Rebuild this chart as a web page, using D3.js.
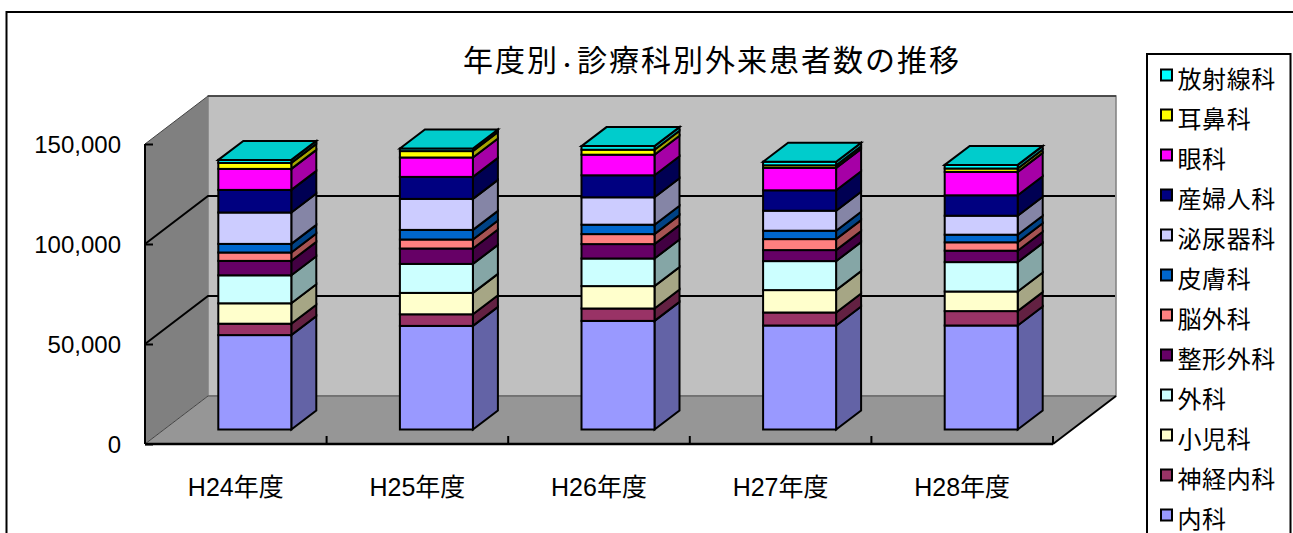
<!DOCTYPE html>
<html lang="ja">
<head>
<meta charset="utf-8">
<script src="https://cdn.jsdelivr.net/npm/d3@7"></script>
<style>
html,body{margin:0;padding:0;background:#fff;overflow:hidden}
svg{display:block}
text{font-family:"Liberation Sans","Noto Sans CJK JP",sans-serif;fill:#000}
</style>
</head>
<body>
<svg id="c" width="1293" height="533"></svg>
<script>
const chartTitleParts = ["年度別","・","診療科別外来患者数の推移"];
const categories = ["H24年度","H25年度","H26年度","H27年度","H28年度"];
const seriesNames = ["内科","神経内科","小児科","外科","整形外科","脳外科","皮膚科","泌尿器科","産婦人科","眼科","耳鼻科","放射線科"];
const seriesColors = ["#9999FF","#993366","#FFFFCC","#CCFFFF","#660066","#FF8080","#0066CC","#CCCCFF","#000080","#FF00FF","#FFFF00","#00FFFF"];
const naika      = [47200,51800,54300,52000,52000];
const shinkei    = [5700,5800,6200,6500,7200];
const shoni      = [10200,10700,11200,11200,9800];
const geka       = [14000,14500,13800,14500,14700];
const seikei     = [7200,7700,7200,5500,5700];
const nogeka     = [4200,4500,5000,5500,4200];
const hifu       = [4300,4800,4700,4200,3800];
const hinyoki    = [15700,15500,13700,10000,9500];
const sanfujin   = [11300,11000,11000,10200,10200];
const ganka      = [10500,9700,10300,11200,11700];
const jibika     = [3000,3200,2500,1300,1700];
const hoshasen   = [1500,1300,1800,1800,1800];
const seriesValues = [naika,shinkei,shoni,geka,seikei,nogeka,hifu,hinyoki,sanfujin,ganka,jibika,hoshasen];
const yTicks = [0,50000,100000,150000];

const svg = d3.select("#c");
const L=145,R=1053,FB=444,FT=144;      // front plane of the 3D box
const wallDx=63,wallDy=48,barDx=25,barDy=19,barW=73;
const x = d3.scaleBand().domain(categories).range([L,R]);
const y = d3.scaleLinear().domain([0,150000]).range([FB,FT]);
const poly = pts => pts.map(p=>p.join(",")).join(" ");

// frame
svg.append("rect").attr("x",6.5).attr("y",12).attr("width",1340).attr("height",600)
  .attr("fill","#fff").attr("stroke","#000").attr("stroke-width",2);

// walls and floor
svg.append("polygon").attr("points",poly([[L,FB],[L,FT],[L+wallDx,FT-wallDy],[L+wallDx,FB-wallDy]]))
  .attr("fill","#808080");
svg.append("rect").attr("x",L+wallDx).attr("y",FT-wallDy).attr("width",R-L).attr("height",FB-FT)
  .attr("fill","#C0C0C0").attr("stroke","#808080").attr("stroke-width",1.5);
svg.append("polygon").attr("points",poly([[L,FB],[R,FB],[R+wallDx,FB-wallDy],[L+wallDx,FB-wallDy]]))
  .attr("fill","#969696");
svg.append("line").attr("x1",L+wallDx).attr("x2",R+wallDx).attr("y1",FT-wallDy).attr("y2",FT-wallDy)
  .attr("stroke","#333").attr("stroke-width",1.5);
svg.append("line").attr("x1",L).attr("y1",FT).attr("x2",L+wallDx).attr("y2",FT-wallDy)
  .attr("stroke","#444").attr("stroke-width",1);
svg.append("line").attr("x1",L).attr("y1",FB).attr("x2",L+wallDx).attr("y2",FB-wallDy)
  .attr("stroke","#444").attr("stroke-width",1);
svg.append("line").attr("x1",L+wallDx).attr("x2",R+wallDx).attr("y1",FB-wallDy).attr("y2",FB-wallDy)
  .attr("stroke","#555").attr("stroke-width",1);
svg.append("line").attr("x1",R).attr("y1",FB).attr("x2",R+wallDx).attr("y2",FB-wallDy)
  .attr("stroke","#000").attr("stroke-width",2);

// gridlines (back wall + left wall)
const grid = svg.append("g").attr("fill","none").attr("stroke","#000").attr("stroke-width",2);
grid.selectAll("polyline").data(yTicks.filter(t=>t>0&&t<150000)).join("polyline")
  .attr("points",d=>poly([[L,y(d)],[L+wallDx,y(d)-wallDy],[R+wallDx-1,y(d)-wallDy]]));

// axes
const axisL = d3.axisLeft(y).tickValues(yTicks).tickSize(-8).tickPadding(24)
  .tickFormat(d3.format(","));
const gy = svg.append("g").attr("transform",`translate(${L},0)`).call(axisL);
gy.selectAll("text").attr("font-size",24).attr("font-family",null).attr("dy","0.37em");
gy.selectAll("line,path").attr("stroke","#000").attr("stroke-width",2);
gy.select(".domain").attr("d",`M0,${FT}V${FB}`);

const axisB = d3.axisBottom(x).tickSize(0).tickPadding(34);
const gx = svg.append("g").attr("transform",`translate(0,${FB})`).call(axisB);
gx.selectAll("text").attr("font-size",25).attr("font-family",null);
gx.select(".domain").attr("d",`M${L},0H${R}`).attr("stroke","#000").attr("stroke-width",2.5);
gx.selectAll("line").remove();
const edges = categories.map(c=>x(c)+x.step()).concat([x(categories[0])]);
gx.selectAll("line.edge").data(edges).join("line").attr("class","edge")
  .attr("x1",d=>d).attr("x2",d=>d).attr("y1",0).attr("y2",-8)
  .attr("stroke","#000").attr("stroke-width",2);

// stacked bars
const rows = categories.map((c,i)=>{
  const r={category:c};
  seriesNames.forEach((s,j)=>{r[s]=seriesValues[j][i];});
  return r;
});
const stacked = d3.stack().keys(seriesNames)(rows);
const offX=(wallDx-barDx)/2, offY=(wallDy-barDy)/2;
const barX = c => x(c)+(x.bandwidth()-barW)/2+offX;
const barY = v => y(v)-offY;
const bars = svg.append("g").attr("stroke","#000").attr("stroke-width",2).attr("stroke-linejoin","miter");
stacked.forEach((layer,j)=>{
  const col=d3.color(seriesColors[j]);
  const side=d3.rgb(col.r*.65,col.g*.65,col.b*.65).formatHex();
  const g=bars.append("g");
  g.selectAll("polygon").data(layer).join("polygon").attr("fill",side)
    .attr("points",d=>{const X=barX(d.data.category)+barW;
      return poly([[X,barY(d[0])],[X,barY(d[1])],[X+barDx,barY(d[1])-barDy],[X+barDx,barY(d[0])-barDy]]);});
  g.selectAll("rect").data(layer).join("rect").attr("fill",seriesColors[j])
    .attr("x",d=>barX(d.data.category)).attr("width",barW)
    .attr("y",d=>barY(d[1])).attr("height",d=>barY(d[0])-barY(d[1]));
});
const topLayer=stacked[stacked.length-1];
const topCol=d3.color(seriesColors[seriesColors.length-1]);
bars.append("g").selectAll("polygon").data(topLayer).join("polygon")
  .attr("fill",d3.rgb(topCol.r*.8,topCol.g*.8,topCol.b*.8).formatHex())
  .attr("points",d=>{const X=barX(d.data.category),Y=barY(d[1]);
    return poly([[X,Y],[X+barDx,Y-barDy],[X+barW+barDx,Y-barDy],[X+barW,Y]]);});

// title: the middle dot is set narrow, as in the reference
const title = svg.append("text").attr("x",463).attr("y",71).attr("font-size",30).attr("letter-spacing",2);
title.selectAll("tspan").data(chartTitleParts).join("tspan")
  .attr("font-size",(d,i)=>i===1?16:30).attr("font-weight",(d,i)=>i===1?700:400).text(d=>d);

// legend
svg.append("rect").attr("x",1147).attr("y",54).attr("width",143.5).attr("height",520)
  .attr("fill","#fff").attr("stroke","#000").attr("stroke-width",2);
const legendItems = seriesNames.map((s,i)=>({name:s,color:seriesColors[i]})).reverse();
const leg = svg.append("g").selectAll("g").data(legendItems).join("g")
  .attr("transform",(d,i)=>`translate(0,${75+i*40})`);
leg.append("rect").attr("x",1161).attr("y",-5.5).attr("width",11).attr("height",11)
  .attr("fill",d=>d.color).attr("stroke","#000").attr("stroke-width",2);
leg.append("text").attr("x",1177.5).attr("y",13).attr("font-size",24).attr("letter-spacing",0.6).text(d=>d.name);
</script>
</body>
</html>
